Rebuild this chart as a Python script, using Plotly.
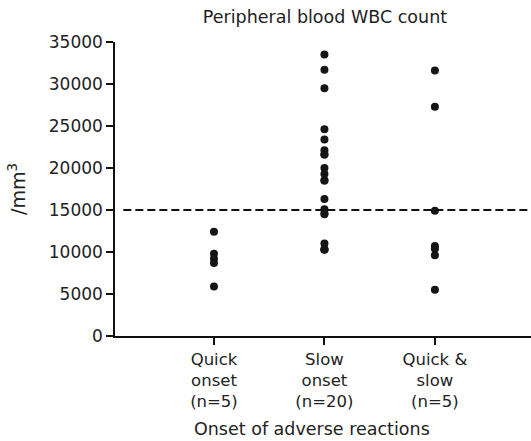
import plotly.graph_objects as go

categories = ["Quick<br>onset<br>(n=5)", "Slow<br>onset<br>(n=20)", "Quick &<br>slow<br>(n=5)"]
cat_pos = [1, 2, 3]

quick_onset = [12400, 9800, 9200, 8700, 5900]
slow_onset = [33500, 31700, 29500, 24600, 23400, 22100, 21600, 21600, 20000, 19300,
              18500, 18500, 16300, 15100, 14600, 14500, 11000, 10300, 10300, 10300]
quick_slow = [31600, 27300, 14900, 10700, 10400, 9600, 5500]

threshold = 15000
y_ticks = [0, 5000, 10000, 15000, 20000, 25000, 30000, 35000]
y_ticktext = [str(v) for v in y_ticks]

groups = [quick_onset, slow_onset, quick_slow]

fig = go.Figure()
for pos, vals in zip(cat_pos, groups):
    fig.add_trace(go.Scatter(
        x=[pos] * len(vals), y=vals, mode="markers",
        marker=dict(size=8, color="#151515"),
        showlegend=False,
    ))

fig.add_shape(type="line", xref="paper", x0=0.02, x1=1, yref="y", y0=threshold, y1=threshold,
              line=dict(color="#111111", width=2, dash="8px,4px"))

fig.add_annotation(text="Onset of adverse reactions", xref="paper", yref="paper",
                   x=0.4736, y=-0.316, xanchor="center", yanchor="middle",
                   showarrow=False, font=dict(size=17.5, color="#222222"))

font_family = "'DejaVu Sans', sans-serif"
fig.update_layout(
    width=531, height=441,
    margin=dict(l=115, r=0, t=42, b=105),
    plot_bgcolor="white", paper_bgcolor="white",
    font=dict(family=font_family, size=16, color="#222222"),
    title=dict(text="Peripheral blood WBC count", x=0.612, xanchor="center",
               y=0.962, yanchor="middle", font=dict(size=17.5, color="#222222")),
    xaxis=dict(
        range=[0.104, 3.87], tickvals=cat_pos, ticktext=categories,
        showline=True, linecolor="#111111", linewidth=1.5,
        ticks="outside", ticklen=7, tickcolor="#111111", tickwidth=1.5,
        showgrid=False, zeroline=False,
        tickfont=dict(size=16.5),
    ),
    yaxis=dict(
        range=[0, 35000], tickvals=y_ticks, ticktext=y_ticktext,
        showline=True, linecolor="#111111", linewidth=1.5,
        ticks="outside", ticklen=7, tickcolor="#111111", tickwidth=1.5,
        showgrid=False, zeroline=False,
        tickfont=dict(size=17),
        title=dict(text="/mm<sup>3</sup>", font=dict(size=19), standoff=18),
    ),
)

fig.write_html("out.html")
